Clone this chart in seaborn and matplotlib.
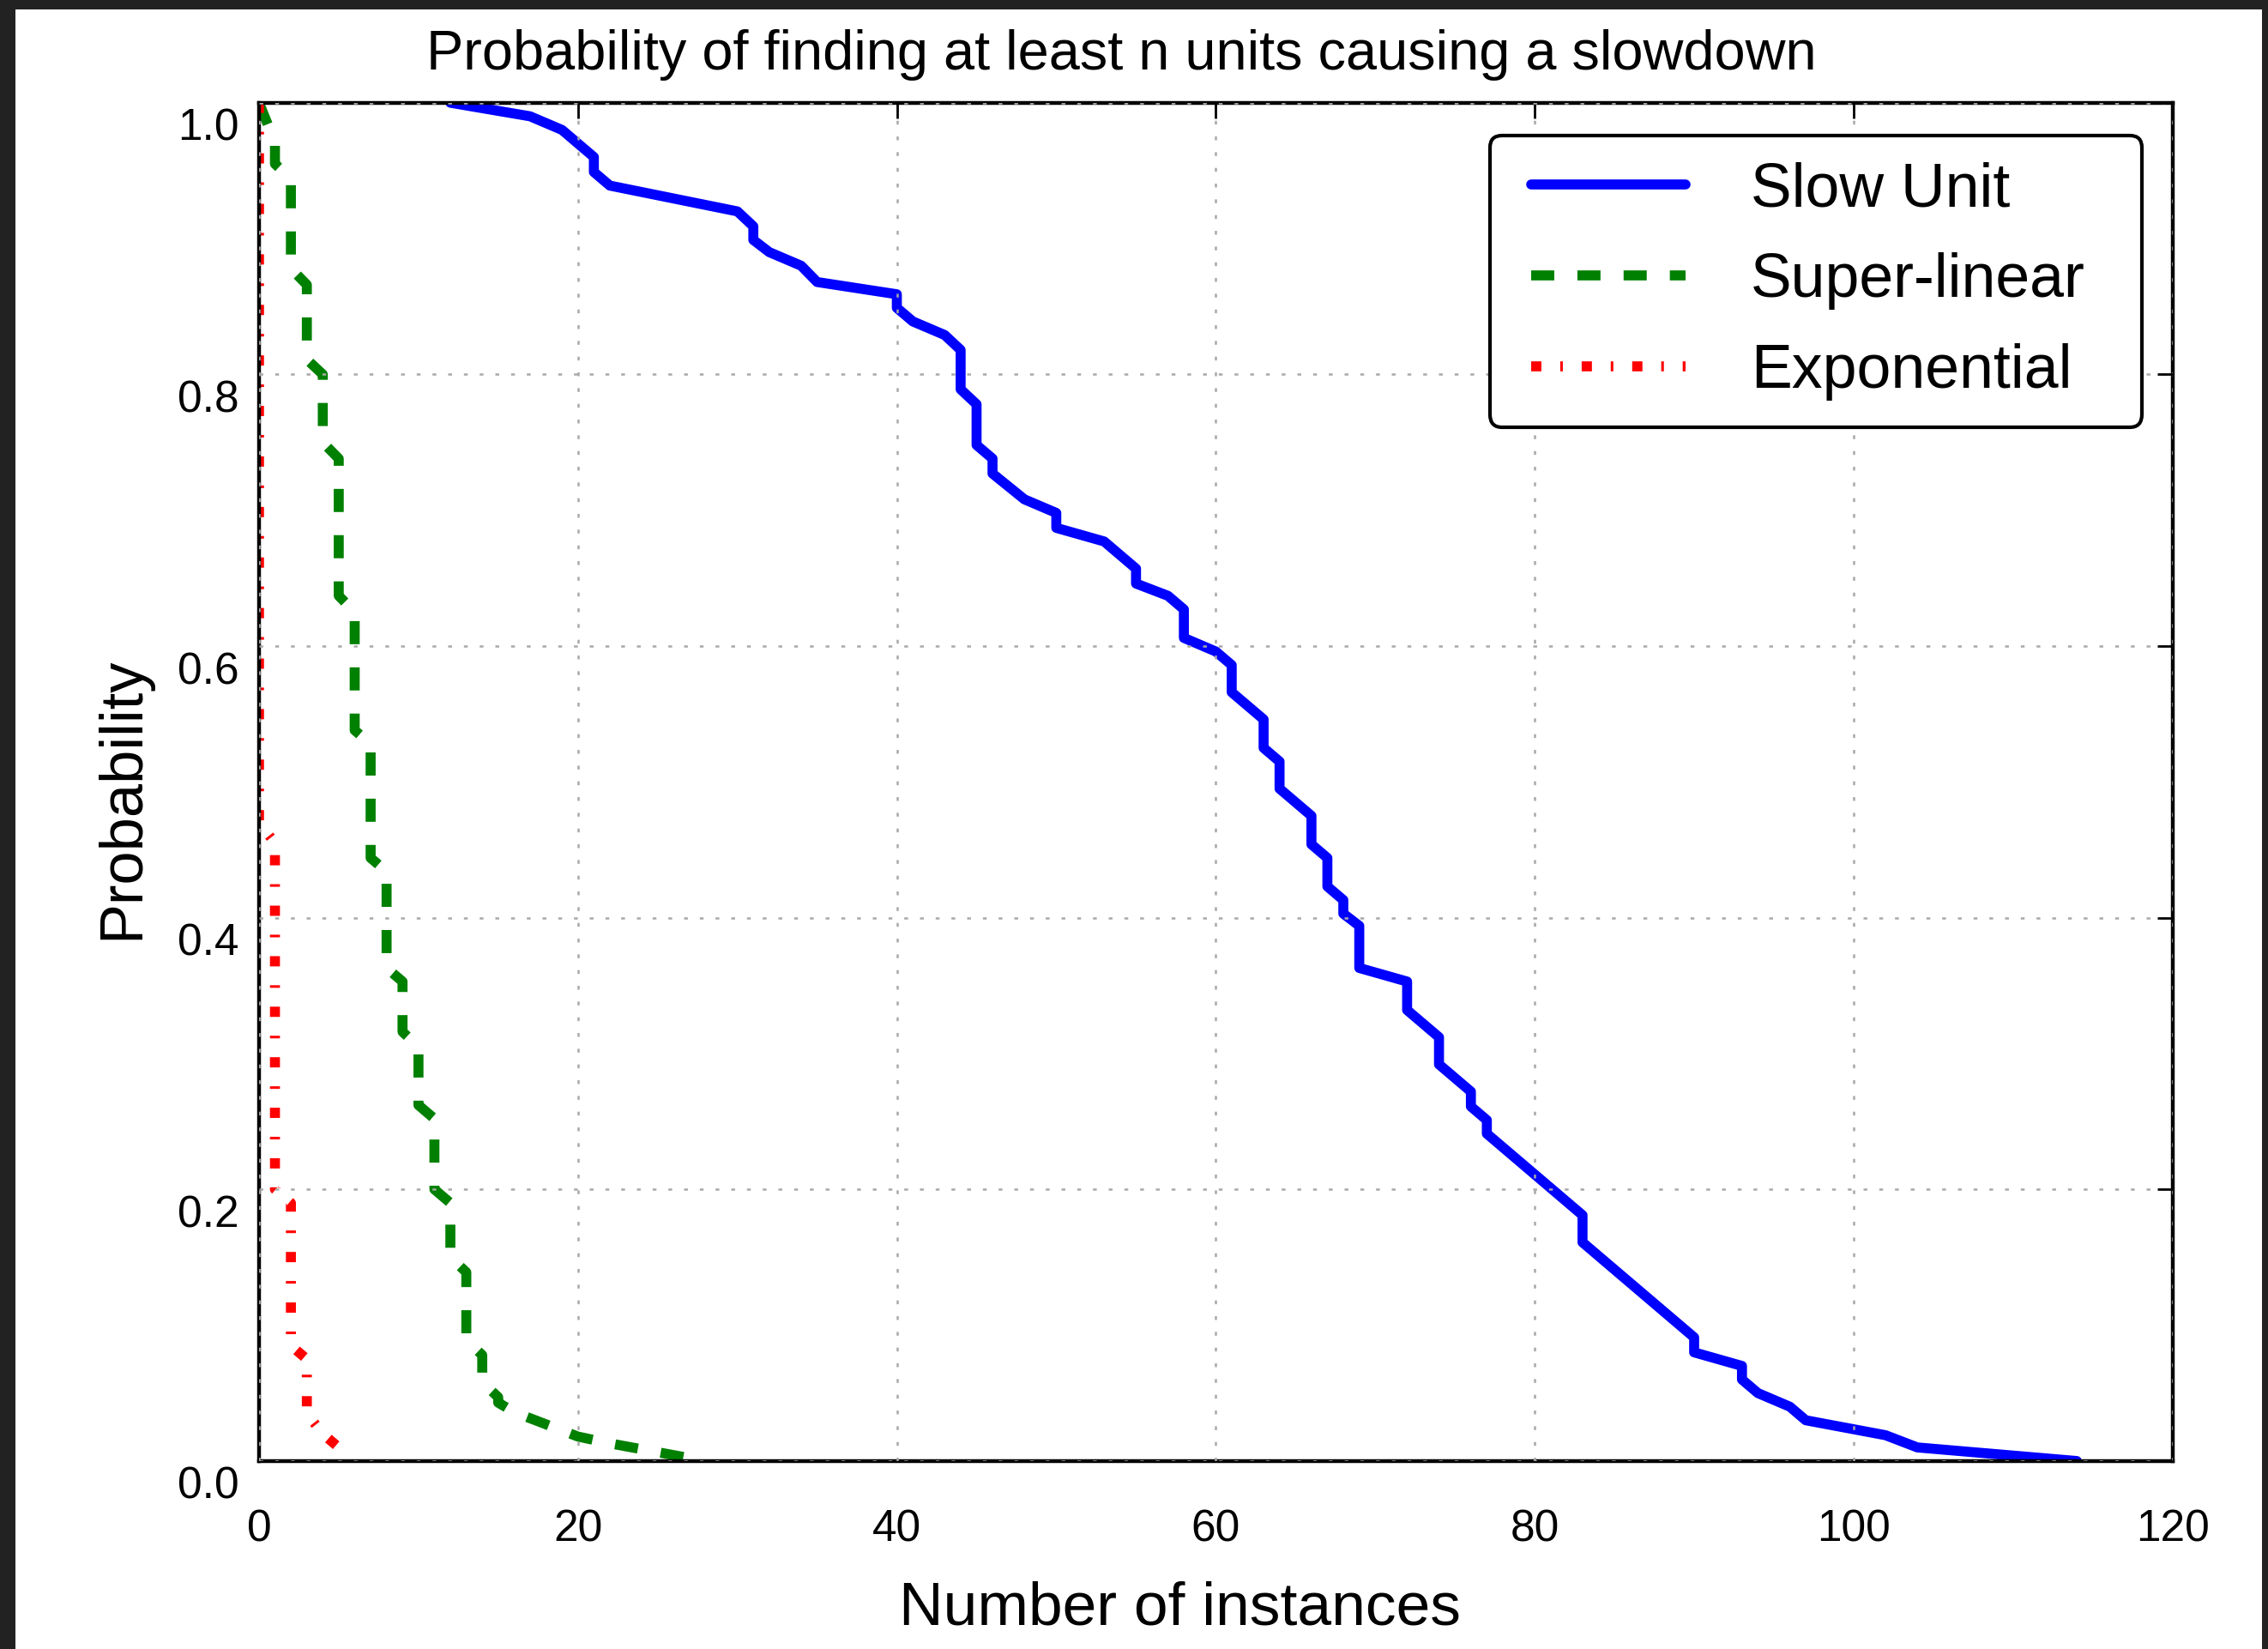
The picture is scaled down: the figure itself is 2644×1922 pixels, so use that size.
import matplotlib
matplotlib.use("Agg")
import matplotlib.pyplot as plt
import seaborn as sns
from matplotlib.transforms import ScaledTranslation
from matplotlib.patches import Rectangle
from matplotlib.legend_handler import HandlerLine2D
from matplotlib.lines import Line2D

# ---------------- data ----------------
slow_x = [12, 17, 19, 21, 21, 22, 30, 31, 31, 32, 34, 35, 40, 40, 41, 43, 44, 44,
          45, 45, 46, 46, 48, 50, 50, 53, 55, 55, 57, 58, 58, 60, 61, 61, 63, 63,
          64, 64, 66, 66, 67, 67, 68, 68, 69, 69, 72, 72, 74, 74, 76, 76, 77, 77,
          83, 83, 90, 90, 93, 93, 94, 96, 97, 102, 104, 114]
slow_y = [1.0, 0.990, 0.980, 0.960, 0.949, 0.939, 0.920, 0.909, 0.899, 0.890, 0.880, 0.868,
          0.859, 0.849, 0.839, 0.829, 0.818, 0.789, 0.778, 0.748, 0.738, 0.727, 0.708, 0.698,
          0.687, 0.677, 0.657, 0.646, 0.637, 0.627, 0.606, 0.596, 0.586, 0.566, 0.546, 0.525,
          0.515, 0.495, 0.475, 0.454, 0.444, 0.423, 0.413, 0.403, 0.394, 0.363, 0.353, 0.332,
          0.312, 0.292, 0.272, 0.261, 0.251, 0.241, 0.181, 0.161, 0.091, 0.080, 0.070, 0.060,
          0.050, 0.040, 0.030, 0.019, 0.010, 0.0]

sup_x = [0, 1, 1, 2, 2, 3, 3, 4, 4, 5, 5, 6, 6, 7, 7, 8, 8, 9, 9, 10, 10, 11, 11,
         12, 12, 13, 13, 14, 14, 15, 15, 16, 20, 22, 28]
sup_y = [1.0, 0.971, 0.955, 0.944, 0.878, 0.866, 0.811, 0.800, 0.750, 0.738, 0.637, 0.625,
         0.538, 0.528, 0.444, 0.434, 0.363, 0.353, 0.316, 0.305, 0.262, 0.252, 0.200, 0.190,
         0.150, 0.139, 0.089, 0.078, 0.058, 0.047, 0.043, 0.036, 0.018, 0.013, 0.0]

exp_x = [0, 0, 1, 1, 2, 2, 3, 3, 4, 5]
exp_y = [1.0, 0.47, 0.455, 0.2, 0.19, 0.085, 0.075, 0.035, 0.02, 0.01]

series_labels = ["Slow Unit", "Super-linear", "Exponential"]
x_ticks = [0, 20, 40, 60, 80, 100, 120]
y_ticks = [0.0, 0.2, 0.4, 0.6, 0.8, 1.0]
y_tick_labels = ["0.0", "0.2", "0.4", "0.6", "0.8", "1.0"]

title_text = "Probability of finding at least n units causing a slowdown"
x_label = "Number of instances"
y_label = "Probability"

# ---------------- style ----------------
sns.set_style("white")
plt.rcParams["font.family"] = ["Liberation Sans", "DejaVu Sans"]
plt.rcParams["lines.scale_dashes"] = False
for k in ["text.color", "axes.labelcolor", "xtick.color", "ytick.color"]:
    plt.rcParams[k] = "black"

fig = plt.figure(figsize=(13.22, 9.61), dpi=200)
fig.patch.set_facecolor("white")
ax = fig.add_axes([0.1142, 0.1140, 0.8437, 0.8237])

lw = 4.2
sns.lineplot(x=slow_x, y=slow_y, estimator=None, sort=False, ax=ax,
             color="#0000ff", label=series_labels[0])
ax.lines[-1].set_linewidth(lw)
sns.lineplot(x=sup_x, y=sup_y, estimator=None, sort=False, ax=ax,
             color="#008000", label=series_labels[1])
ax.lines[-1].set_linewidth(lw)
ax.lines[-1].set_linestyle((0, (9.7, 9.7)))
sns.lineplot(x=exp_x, y=exp_y, estimator=None, sort=False, ax=ax,
             color="#ff0000", label=series_labels[2])
ax.lines[-1].set_linewidth(lw)
ax.lines[-1].set_linestyle((0, (4.3, 7.9, 1.1, 7.9)))

ax.set_xlim(0, 120)
ax.set_ylim(0, 1)
ax.set_xticks(x_ticks)
ax.set_yticks(y_ticks)
ax.set_yticklabels(y_tick_labels)
ax.set_xlabel("")
ax.set_ylabel("")

ax.set_axisbelow(False)
ax.grid(True, color="#a8a8a8", linestyle=(0, (1.6, 5.0)), linewidth=0.9)
ax.xaxis.set_zorder(2.6)
ax.yaxis.set_zorder(2.6)

for s in ax.spines.values():
    s.set_visible(True)
    s.set_linewidth(1.6)
    s.set_color("black")
    s.set_zorder(2.5)

ax.tick_params(direction="in", length=6.5, width=1.0, top=True, right=True,
               labelsize=18.5, colors="black")
ax.tick_params(axis="y", pad=8.5)
ax.tick_params(axis="x", pad=20)

off = ScaledTranslation(0, -25 / 200, fig.dpi_scale_trans)
for t in ax.yaxis.get_major_ticks():
    t.label1.set_transform(t.label1.get_transform() + off)

handles = [l for l in ax.lines[:3]]
leg = ax.legend(handles, series_labels, loc="upper left",
                bbox_to_anchor=(0.657, 0.744, 0.2875, 0.174),
                bbox_transform=fig.transFigure, mode="expand", borderaxespad=0,
                fontsize=25.8, handlelength=2.75, handletextpad=1.06,
                labelspacing=0.54, borderpad=0.43, fancybox=True, framealpha=1,
                edgecolor="black", handler_map={Line2D: HandlerLine2D(xpad=0.24)})
leg.get_frame().set_linewidth(1.5)
for txt in leg.get_texts():
    txt.set_color("black")

fig.text(775 / 1568, 1 - 48 / 1140, title_text, ha="center", va="baseline", fontsize=23.35)
fig.text(815.5 / 1568, 1 - 1123 / 1140, x_label, ha="center", va="baseline", fontsize=25.7)
fig.text(85 / 1568, 0.516, y_label, rotation=90, ha="center", va="center", fontsize=25.4)

# dark screenshot frame
dark = "#222222"
fig.patches.append(Rectangle((0, 0), 18 / 2644, 1, transform=fig.transFigure,
                             facecolor=dark, edgecolor="none", zorder=10))
fig.patches.append(Rectangle((0, 1 - 11 / 1922), 1, 11 / 1922, transform=fig.transFigure,
                             facecolor=dark, edgecolor="none", zorder=10))
fig.patches.append(Rectangle((1 - 7 / 2644, 0), 7 / 2644, 1, transform=fig.transFigure,
                             facecolor=dark, edgecolor="none", zorder=10))

fig.savefig("out.png", dpi=200)
